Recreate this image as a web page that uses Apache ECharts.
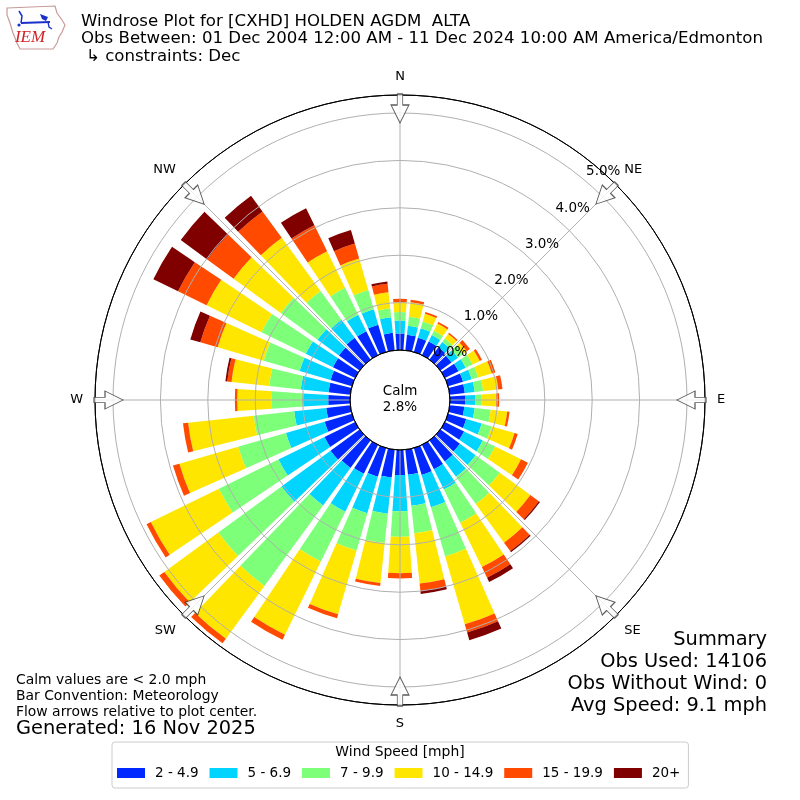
<!DOCTYPE html>
<html><head><meta charset="utf-8">
<script src="https://cdn.jsdelivr.net/npm/echarts@6/dist/echarts.min.js"></script>
<style>html,body{margin:0;padding:0;background:#fff}#c{width:800px;height:800px}</style>
</head><body><div id="c"></div>
<script>
// Direction bins (degrees, meteorological, clockwise from North)
const directions = ['0','10','20','30','40','50','60','70','80','90','100','110','120','130','140','150','160','170',
  '180','190','200','210','220','230','240','250','260','270','280','290','300','310','320','330','340','350'];
const binNames = ['2 - 4.9','5 - 6.9','7 - 9.9','10 - 14.9','15 - 19.9','20+'];
const binColors = ['#0028ff','#00d4ff','#7dff7a','#ffe600','#ff4a00','#800000'];
// Frequency (%) per direction for each speed bin
const speed2to5 = [0.35,0.33,0.31,0.32,0.32,0.29,0.32,0.33,0.32,0.32,0.31,0.40,0.45,0.51,0.55,0.57,0.59,0.53,
  0.53,0.59,0.63,0.68,0.72,0.76,0.72,0.60,0.51,0.46,0.46,0.47,0.52,0.54,0.57,0.56,0.60,0.37];
const speed5to7 = [0.27,0.19,0.21,0.15,0.14,0.17,0.17,0.19,0.21,0.21,0.22,0.34,0.44,0.41,0.40,0.48,0.71,0.66,
  0.76,0.77,0.80,0.89,0.98,1.28,1.08,0.85,0.68,0.53,0.59,0.68,0.64,0.56,0.47,0.39,0.34,0.33];
const speed7to10 = [0.18,0.19,0.15,0.10,0.09,0.14,0.16,0.14,0.18,0.14,0.34,0.22,0.29,0.63,0.71,0.78,1.08,0.58,
  0.54,0.62,0.82,1.17,2.10,1.65,1.40,1.05,0.86,0.66,0.67,0.79,1.04,0.96,0.75,0.63,0.42,0.19];
const speed10to15 = [0.21,0.31,0.17,0.17,0.12,0.09,0.17,0.30,0.32,0.31,0.35,0.50,0.61,0.80,1.01,1.04,1.49,1.07,
  0.77,0.85,1.40,1.72,1.38,1.41,1.60,1.29,1.39,0.73,0.80,1.01,1.29,1.23,1.39,0.86,0.69,0.34];
const speed15to20 = [0.07,0.05,0.04,0.04,0.03,0.08,0.05,0.08,0.09,0.06,0.05,0.07,0.16,0.22,0.22,0.25,0.18,0.16,
  0.11,0.06,0.09,0.12,0.12,0.13,0.10,0.14,0.11,0.05,0.09,0.38,0.67,0.69,0.69,0.61,0.33,0.18];
const speed20plus = [0,0,0,0,0,0,0,0,0,0,0,0,0,0.03,0.03,0.10,0.17,0.06,
  0,0,0,0,0,0,0,0,0,0,0.04,0.22,0.58,0.69,0.41,0.40,0.30,0.05];
const binValues = [speed2to5, speed5to7, speed7to10, speed10to15, speed15to20, speed20plus];
const compassAngles = [0,45,90,135,180,225,270,315];
const compassLabels = ['N','NE','E','SE','S','SW','W','NW'];
const radiusMax = 5.38;

const titleLines = ['Windrose Plot for [CXHD] HOLDEN AGDM  ALTA',
  'Obs Between: 01 Dec 2004 12:00 AM - 11 Dec 2024 10:00 AM America/Edmonton',
  '\u21b3 constraints: Dec'];
const noteLines = ['Calm values are < 2.0 mph','Bar Convention: Meteorology','Flow arrows relative to plot center.'];
const generatedText = 'Generated: 16 Nov 2025';
const summaryLines = ['Summary','Obs Used: 14106','Obs Without Wind: 0','Avg Speed: 9.1 mph'];
const calmLines = ['Calm','2.8%'];

const FONT = '"DejaVu Sans", sans-serif';
const compassMap = {};
compassAngles.forEach((a, i) => { compassMap[a] = compassLabels[i]; });
const arrowPath = 'path://M9,0 L18,18 L11.7,18 L11.7,29 L6.3,29 L6.3,18 L0,18 Z';

const chart = echarts.init(document.getElementById('c'), null, {renderer: 'canvas'});

const barSeries = binNames.map((name, i) => ({
  type: 'bar', name: name, coordinateSystem: 'polar', polarIndex: 0, stack: 'wind',
  data: binValues[i], barWidth: '78%', silent: true, z: 2,
  itemStyle: {color: binColors[i]}
}));

const arrowSeries = {
  type: 'scatter', coordinateSystem: 'polar', polarIndex: 1, silent: true, z: 8,
  symbol: arrowPath, symbolSize: [18, 29],
  itemStyle: {color: '#ffffff', borderColor: '#333333', borderWidth: 1},
  data: compassAngles.map(a => ({value: [5.095, a], symbolRotate: 180 - a}))
};

const gray = '#b0b0b0';
const graphics = [];
titleLines.forEach((t, i) => {
  graphics.push({type: 'text', x: i === 2 ? 86 : 81, y: 21.5 + i * 17.5, silent: true,
    style: {text: t, fill: '#000', font: '16.6px ' + FONT, align: 'left', verticalAlign: 'middle'}});
});
noteLines.forEach((t, i) => {
  graphics.push({type: 'text', x: 16, y: 680 + i * 16, silent: true,
    style: {text: t, fill: '#000', font: '13.9px ' + FONT, align: 'left', verticalAlign: 'middle'}});
});
graphics.push({type: 'text', x: 16, y: 729, silent: true,
  style: {text: generatedText, fill: '#000', font: '19.4px ' + FONT, align: 'left', verticalAlign: 'middle'}});
summaryLines.forEach((t, i) => {
  graphics.push({type: 'text', x: 767, y: 640 + i * 22, silent: true,
    style: {text: t, fill: '#000', font: '19.4px ' + FONT, align: 'right', verticalAlign: 'middle'}});
});
calmLines.forEach((t, i) => {
  graphics.push({type: 'text', x: 400, y: 391 + i * 16, silent: true, z: 20,
    style: {text: t, fill: '#000', font: '13.5px ' + FONT, align: 'center', verticalAlign: 'middle'}});
});
graphics.push({type: 'text', x: 400, y: 752, silent: true, z: 20,
  style: {text: 'Wind Speed [mph]', fill: '#000', font: '13.9px ' + FONT, align: 'center', verticalAlign: 'middle'}});
// IEM logo (approximation)
graphics.push({type: 'polygon', silent: true,
  shape: {points: [[7,8],[55,6],[57,13],[62,20],[65,25],[62,32],[59,37],[57,43],[53,49],[20,49],[17,43],[13,33],[10,23],[7,15]]},
  style: {fill: 'none', stroke: '#c99a9a', lineWidth: 1.2}});
graphics.push({type: 'polyline', silent: true, shape: {points: [[19,11],[22,16],[21,23]]}, style: {stroke: '#1a2fcc', lineWidth: 1.5, fill: 'none'}});
graphics.push({type: 'line', silent: true, shape: {x1: 21, y1: 23, x2: 50, y2: 22}, style: {stroke: '#1a2fcc', lineWidth: 2}});
graphics.push({type: 'polygon', silent: true, shape: {points: [[40,14],[48,17],[46,21],[42,19]]}, style: {fill: '#1a2fcc'}});
graphics.push({type: 'polyline', silent: true, shape: {points: [[48,22],[49,27],[52,29]]}, style: {stroke: '#1a2fcc', lineWidth: 1.3, fill: 'none'}});
graphics.push({type: 'circle', silent: true, shape: {cx: 19, cy: 25, r: 1.6}, style: {fill: '#1a2fcc'}});
graphics.push({type: 'text', x: 30, y: 38, silent: true,
  style: {text: 'IEM', fill: '#d42020', font: 'italic 17px "Liberation Serif", "DejaVu Serif", serif', align: 'center', verticalAlign: 'middle'}});

const option = {
  animation: false,
  backgroundColor: '#ffffff',
  polar: [
    {center: [400, 400], radius: [50, 305]},
    {center: [400, 400], radius: [50, 305]},
    {center: [418, 391], radius: [50, 305]}
  ],
  angleAxis: [
    {polarIndex: 0, type: 'category', data: directions, startAngle: 95, clockwise: true, boundaryGap: true, show: false},
    {polarIndex: 1, type: 'value', min: 0, max: 360, interval: 45, startAngle: 90, clockwise: true, z: 5,
      axisLine: {show: true, lineStyle: {color: '#000', width: 1}},
      axisTick: {show: false},
      axisLabel: {show: true, margin: 12, fontSize: 13, fontFamily: FONT, color: '#000',
        formatter: v => compassMap[v] || ''},
      splitLine: {show: true, lineStyle: {color: gray, width: 1}}},
    {polarIndex: 2, type: 'value', min: 0, max: 360, startAngle: 49.8, clockwise: true, show: false}
  ],
  radiusAxis: [
    {polarIndex: 0, type: 'value', min: 0, max: radiusMax, show: false},
    {polarIndex: 1, type: 'value', min: 0, max: radiusMax, interval: 1, z: 5,
      axisLine: {show: false}, axisTick: {show: false}, axisLabel: {show: false},
      splitLine: {show: true, lineStyle: {color: ['#000', gray, gray, gray, gray, gray, '#000'], width: 1}}},
    {polarIndex: 2, type: 'value', min: 0, max: radiusMax, interval: 1, z: 6,
      axisLine: {show: false}, axisTick: {show: false}, splitLine: {show: false},
      axisLabel: {show: true, margin: 0, align: 'center', verticalAlign: 'middle', fontSize: 13.5, fontFamily: FONT, color: '#000',
        formatter: v => (Math.abs(v - Math.round(v)) < 1e-6 ? Number(v).toFixed(1) + '%' : '')}}
  ],
  legend: {
    left: 112, top: 742, orient: 'horizontal', selectedMode: false,
    icon: 'rect', itemWidth: 28, itemHeight: 10, itemGap: 11,
    padding: [24, 8, 8, 5], borderColor: '#cccccc', borderWidth: 1, borderRadius: 3,
    textStyle: {fontSize: 13.5, fontFamily: FONT, color: '#000', padding: [0, 0, 0, 5]},
    data: binNames
  },
  graphic: {elements: graphics},
  series: barSeries.concat([arrowSeries])
};
chart.setOption(option);
</script></body></html>
